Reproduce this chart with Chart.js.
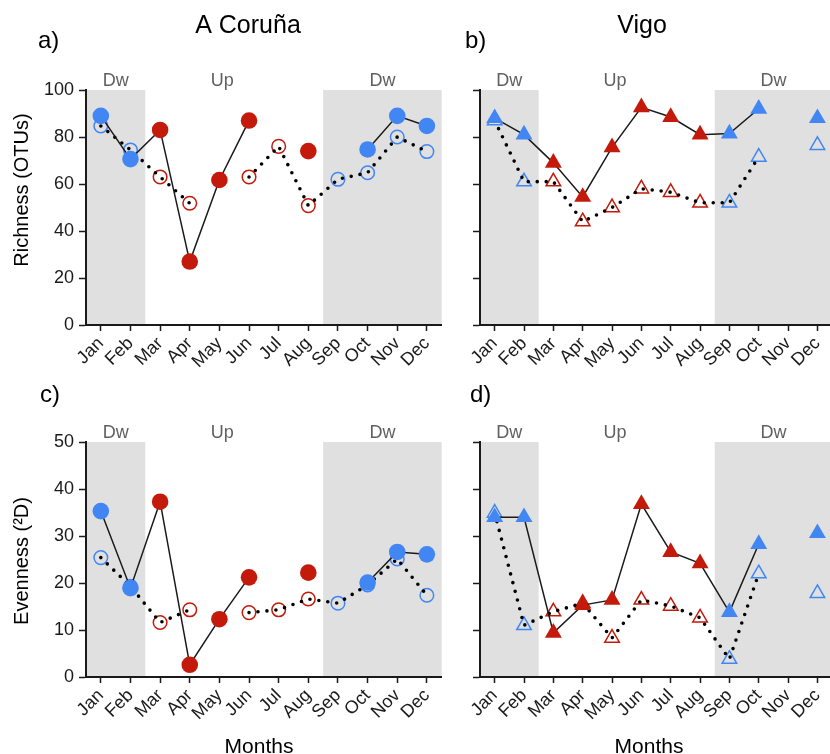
<!DOCTYPE html>
<html lang="en">
<head>
<meta charset="UTF-8">
<title>Richness and evenness - A Coruña / Vigo</title>
<script src="https://cdn.jsdelivr.net/npm/chart.js"></script>
<style>
    body { margin: 0; width: 830px; height: 754px; overflow: hidden; background: #fff; position: relative; }
    canvas { position: absolute; }
</style>
</head>
<body>
<canvas id="panelA" width="450" height="377" style="left:0;top:0"></canvas>
<canvas id="panelB" width="392" height="377" style="left:450px;top:0"></canvas>
<canvas id="panelC" width="450" height="380" style="left:0;top:377px"></canvas>
<canvas id="panelD" width="392" height="380" style="left:450px;top:377px"></canvas>
<script>
// data
const months = ['Jan', 'Feb', 'Mar', 'Apr', 'May', 'Jun', 'Jul', 'Aug', 'Sep', 'Oct', 'Nov', 'Dec'];
const season = ['Dw', 'Dw', 'Up', 'Up', 'Up', 'Up', 'Up', 'Up', 'Dw', 'Dw', 'Dw', 'Dw'];

// a) A Coruña richness
const corunaRichFilled = [89, 70.6, 83, 27, 61.7, 87, null, 74, null, 74.7, 89, 84.7];
const corunaRichOpen   = [84.7, 74.5, 63, 51.8, null, 63, 76, 50.8, 62, 64.8, 80, 73.8];
// b) Vigo richness
const vigoRichFilled = [88, 81, 69, 54.5, 75.6, 92.6, 88.5, 81, 81.5, 92, null, 88];
const vigoRichOpen   = [87, 61, 61, 44, 50, 58, 56.5, 52, 52, 71.5, null, 76.5];
// c) A Coruña evenness
const corunaEvenFilled = [35.3, 18.9, 37.3, 2.6, 12.3, 21.2, null, 22.2, null, 20.1, 26.6, 26.1];
const corunaEvenOpen   = [25.4, 19.3, 11.6, 14.3, null, 13.7, 14.3, 16.6, 15.7, 19.6, 25.1, 17.4];
// d) Vigo evenness
const vigoEvenFilled = [34, 34, 9.4, 15.3, 16.4, 36.8, 26.6, 24.2, 13.8, 28.3, null, 30.6];
const vigoEvenOpen   = [34.9, 11, 13.9, 15.7, 8.3, 16.4, 15.1, 12.6, 3.8, 22, null, 17.8];

const BLUE = '#4286f4';
const RED = '#c41a0b';
const SHADE = '#e0e0e0';
const INK = '#1a1a1a';
const FONT = "'Liberation Sans', Arial, Helvetica, sans-serif";

Chart.defaults.font.family = FONT;
Chart.defaults.color = INK;

const pointColors = season.map(s => s === 'Dw' ? BLUE : RED);
const seasonLabels = [{text: 'Dw', at: 0.5}, {text: 'Up', at: 4.1}, {text: 'Dw', at: 9.5}];

const panelDecor = {
    id: 'panelDecor',
    beforeDraw(chart, args, opts) {
        const {ctx, chartArea: a, scales: {x}} = chart;
        const step = x.getPixelForValue(1) - x.getPixelForValue(0);
        ctx.save();
        ctx.fillStyle = SHADE;
        let i = 0;
        while (i < season.length) {
            if (season[i] !== 'Dw') { i++; continue; }
            let j = i;
            while (j + 1 < season.length && season[j + 1] === 'Dw') j++;
            const x0 = Math.max(a.left, x.getPixelForValue(i) - step / 2);
            const x1 = Math.min(a.right, x.getPixelForValue(j) + step / 2);
            ctx.fillRect(x0, a.top, x1 - x0, a.bottom - a.top);
            i = j + 1;
        }
        ctx.restore();
    },
    afterDraw(chart, args, opts) {
        const {ctx, chartArea: a, scales: {x}} = chart;
        ctx.save();
        // season labels above the plot
        ctx.fillStyle = '#5f5f5f';
        ctx.font = '18px ' + FONT;
        ctx.textAlign = 'center';
        ctx.textBaseline = 'middle';
        seasonLabels.forEach(l => ctx.fillText(l.text, x.getPixelForValue(l.at), a.top - 9));

        ctx.fillStyle = '#000';
        ctx.textBaseline = 'alphabetic';
        if (opts.letter) {
            ctx.font = '24px ' + FONT;
            ctx.textAlign = 'left';
            ctx.fillText(opts.letter, opts.letterX, opts.letterY);
        }
        if (opts.site) {
            ctx.font = '25px ' + FONT;
            ctx.textAlign = 'center';
            ctx.fillText(opts.site, opts.siteX, 33);
        }
        if (opts.xTitle) {
            ctx.font = '21px ' + FONT;
            ctx.textAlign = 'center';
            ctx.fillText(opts.xTitle, opts.xTitleX, chart.height - 4);
        }
        if (opts.yTitle) {
            ctx.translate(22, opts.yTitleY);
            ctx.rotate(-Math.PI / 2);
            ctx.font = '20px ' + FONT;
            ctx.textAlign = 'center';
            ctx.textBaseline = 'middle';
            ctx.fillText(opts.yTitle, 0, 0);
        }
        ctx.restore();
    }
};

function makePanel(id, filled, open, marker, yMax, yStep, topPad, xHeight, yLabels, decor) {
    const filledR = marker === 'circle' ? 8.3 : 9.8;
    const openR = marker === 'circle' ? 6.8 : 8.4;
    return new Chart(document.getElementById(id), {
        type: 'line',
        data: {
            labels: months,
            datasets: [{
                label: 'filled',
                data: filled,
                order: 1,
                borderColor: INK,
                borderWidth: 1.5,
                pointStyle: marker,
                pointRadius: filledR,
                pointBackgroundColor: pointColors,
                pointBorderColor: pointColors,
                pointBorderWidth: 0,
                spanGaps: false,
                clip: false
            }, {
                label: 'trend',
                data: open,
                order: 2,
                borderColor: '#000',
                borderWidth: 3.6,
                borderDash: [0, 9],
                borderCapStyle: 'round',
                pointRadius: 0,
                spanGaps: false,
                clip: false
            }, {
                label: 'open',
                data: open,
                order: 3,
                showLine: false,
                pointStyle: marker,
                pointRadius: openR,
                pointBackgroundColor: 'rgba(0,0,0,0)',
                pointBorderColor: pointColors,
                pointBorderWidth: 1.5,
                clip: false
            }]
        },
        options: {
            responsive: false,
            animation: false,
            events: [],
            layout: { padding: { top: topPad, right: 4, left: 0, bottom: 0 } },
            plugins: {
                legend: { display: false },
                tooltip: { enabled: false },
                panelDecor: decor
            },
            scales: {
                x: {
                    type: 'category',
                    offset: true,
                    border: { color: INK, width: 2 },
                    grid: { offset: false, drawOnChartArea: false, tickLength: 6, tickWidth: 1.5, tickColor: INK },
                    ticks: { autoSkip: false, minRotation: 45, maxRotation: 45, padding: 2, font: { size: 18 }, color: INK },
                    afterFit(s) { s.height = xHeight; }
                },
                y: {
                    min: 0,
                    max: yMax,
                    border: { color: INK, width: 2 },
                    grid: { drawOnChartArea: false, tickLength: 7, tickWidth: 1.5, tickColor: INK },
                    ticks: {
                        stepSize: yStep,
                        padding: 5,
                        font: { size: 18 },
                        color: INK,
                        callback: v => yLabels ? v : ''
                    },
                    afterFit(s) { s.width = yLabels ? 86 : 30; }
                }
            }
        },
        plugins: [panelDecor]
    });
}

makePanel('panelA', corunaRichFilled, corunaRichOpen, 'circle', 100, 20, 90, 52, true,
    { letter: 'a)', letterX: 38, letterY: 48, site: 'A Coruña', siteX: 248, yTitle: 'Richness (OTUs)', yTitleY: 190 });
makePanel('panelB', vigoRichFilled, vigoRichOpen, 'triangle', 100, 20, 90, 52, false,
    { letter: 'b)', letterX: 15, letterY: 48, site: 'Vigo', siteX: 192 });
makePanel('panelC', corunaEvenFilled, corunaEvenOpen, 'circle', 50, 10, 65, 80, true,
    { letter: 'c)', letterX: 40, letterY: 25, yTitle: 'Evenness (²D)', yTitleY: 184, xTitle: 'Months', xTitleX: 259 });
makePanel('panelD', vigoEvenFilled, vigoEvenOpen, 'triangle', 50, 10, 65, 80, false,
    { letter: 'd)', letterX: 20, letterY: 25, xTitle: 'Months', xTitleX: 199 });
</script>
</body>
</html>
